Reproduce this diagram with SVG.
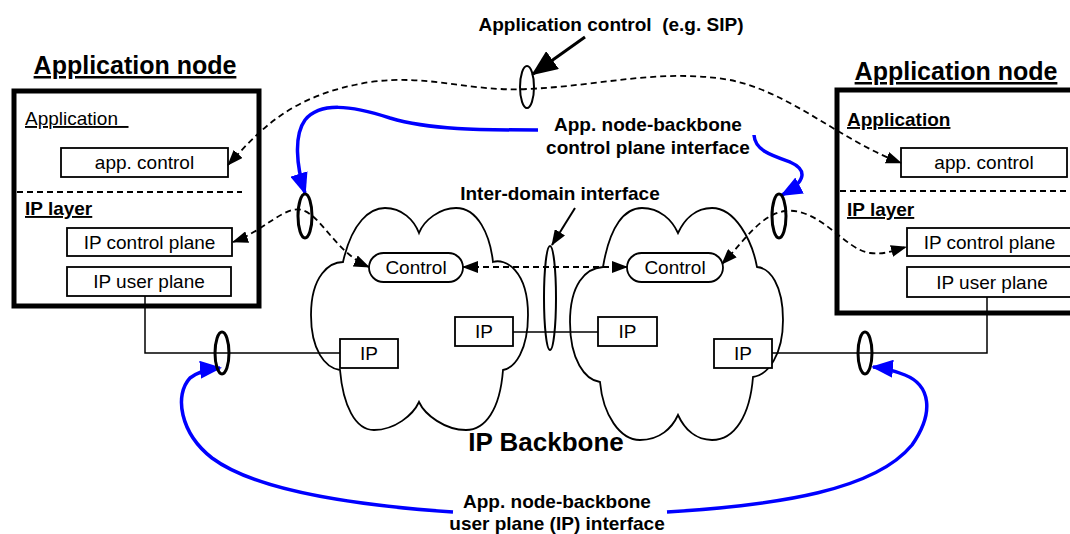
<svg xmlns="http://www.w3.org/2000/svg" width="1070" height="534" viewBox="0 0 1070 534">
<style>
text{font-family:"Liberation Sans",Arial,sans-serif;fill:#000}
.t{font-size:19px}
.b{font-size:19px;font-weight:bold}
.title{font-size:25px;font-weight:bold;text-decoration:underline}
.m{text-anchor:middle}
.box{fill:#fff;stroke:#000;stroke-width:1.8}
.node{fill:#fff;stroke:#000;stroke-width:5}
.cloud{fill:#fff;stroke:#000;stroke-width:1.8}
.dash{fill:none;stroke:#000;stroke-width:1.8;stroke-dasharray:6 4}
.solid{fill:none;stroke:#000;stroke-width:1.5}
.blue{fill:none;stroke:#0000ff;stroke-width:3.5}
.ell{fill:none;stroke:#000;stroke-width:3}
.ell2{fill:none;stroke:#000;stroke-width:2}
</style>
<defs>
<marker id="ah" markerUnits="userSpaceOnUse" markerWidth="16" markerHeight="12" refX="15" refY="6" orient="auto-start-reverse"><path d="M0,0 L16,6 L0,12 Z" fill="#000" stroke="none"/></marker>
<marker id="ahb" markerUnits="userSpaceOnUse" markerWidth="22" markerHeight="18" refX="20" refY="9" orient="auto"><path d="M0,0 L22,9 L0,18 Z" fill="#0000ff" stroke="none"/></marker>
<marker id="ahk" markerUnits="userSpaceOnUse" markerWidth="26" markerHeight="22" refX="24" refY="11" orient="auto"><path d="M0,0 L26,11 L0,22 Z" fill="#000" stroke="none"/></marker>
</defs>

<g id="left-node">
<rect class="node" x="14" y="91" width="245" height="215"/>
<text class="t" x="25" y="125" style="text-decoration:underline">Application&#160;&#160;</text>
<rect class="box" x="61" y="148" width="167" height="29"/>
<text class="t m" x="144.5" y="169">app. control</text>
<line class="dash" x1="17" y1="192" x2="242" y2="192"/>
<text class="b" x="25" y="215" style="text-decoration:underline">IP layer</text>
<rect class="box" x="67" y="228" width="165" height="28"/>
<text class="t m" x="149.5" y="248.5">IP control plane</text>
<rect class="box" x="67" y="267" width="164" height="29"/>
<text class="t m" x="149" y="288">IP user plane</text>
</g>
<text id="left-title" class="title m" x="135" y="74">Application node</text>

<g id="right-node">
<rect class="node" x="837" y="90" width="245" height="223"/>
<text class="b" x="847" y="126" style="text-decoration:underline">Application</text>
<rect class="box" x="901" y="148" width="166" height="29"/>
<text class="t m" x="984" y="169">app. control</text>
<line class="dash" x1="840" y1="191" x2="1070" y2="191"/>
<text class="b" x="847" y="216" style="text-decoration:underline">IP layer</text>
<rect class="box" x="907" y="228" width="170" height="28"/>
<text class="t m" x="989.5" y="248.5">IP control plane</text>
<rect class="box" x="907" y="267" width="170" height="30"/>
<text class="t m" x="992" y="288.5">IP user plane</text>
</g>
<text id="right-title" class="title m" x="956" y="80">Application node</text>

<g id="left-cloud">
<path class="cloud" d="M343,262 C352,222 370,208 385,208 C402,208 414,220 419,233 C424,220 440,208 456,208 C478,208 490,235 493,262 C505,258 528,270 528,315 C528,350 515,368 503,370 C500,410 485,430 466,430 C445,430 425,415 419,402 C413,415 395,430 374,430 C355,430 343,405 340,370 C325,368 311,350 311,315 C311,275 330,262 343,262 Z"/>
</g>
<g id="right-cloud">
<path class="cloud" d="M603,267 C610,225 625,208 642,208 C660,208 672,220 678,233 C684,220 695,208 712,208 C735,208 752,240 757,267 C770,268 783,285 783,320 C783,355 768,375 753,377 C750,415 735,440 712,440 C695,440 684,428 678,415 C672,428 660,440 640,440 C620,440 603,415 600,382 C585,380 570,360 570,322 C570,285 585,268 603,267 Z"/>
</g>

<g id="connectors">
<path class="solid" d="M145,296 V353 H340"/>
<path class="solid" d="M987,297 V353 H772"/>
<line class="solid" x1="513" y1="332" x2="598" y2="332"/>
<path class="dash" d="M228,165 C260,130 290,95 370,82 C430,74 470,92 527,89 C600,86 660,68 730,80 C790,92 840,140 901,163" marker-start="url(#ah)" marker-end="url(#ah)"/>
<path class="dash" d="M233,242 C262,232 285,205 302,210 C322,216 335,252 369,267" marker-start="url(#ah)" marker-end="url(#ah)"/>
<path class="dash" d="M722,264 C745,240 760,215 785,211 C820,207 845,250 870,253 C885,255 895,250 906,247" marker-start="url(#ah)" marker-end="url(#ah)"/>
<line class="dash" x1="463" y1="267" x2="627" y2="267" marker-start="url(#ah)" marker-end="url(#ah)"/>
<line x1="585" y1="37" x2="533" y2="74" stroke="#000" stroke-width="3" marker-end="url(#ahk)"/>
<line x1="575" y1="208" x2="552" y2="245" stroke="#000" stroke-width="2" marker-end="url(#ah)"/>
<path class="blue" d="M538,130 C480,130 430,130 390,118 C350,105 320,102 305,120 C294,135 296,165 305,193" marker-end="url(#ahb)"/>
<path class="blue" d="M754,135 C755,150 770,155 790,162 C808,170 806,182 782,195" marker-end="url(#ahb)"/>
<path class="blue" d="M453,512 C350,505 255,490 212,458 C180,433 174,395 190,378 C198,372 208,369 220,368" marker-end="url(#ahb)"/>
<path class="blue" d="M667,512 C780,505 875,490 912,445 C935,412 930,385 905,375 C895,371 885,368 873,367" marker-end="url(#ahb)"/>
<ellipse class="ell2" cx="527" cy="87" rx="7" ry="21"/>
<ellipse class="ell2" cx="550" cy="298" rx="6" ry="52"/>
<ellipse class="ell" cx="305" cy="216" rx="7" ry="22"/>
<ellipse class="ell" cx="779" cy="216" rx="7" ry="22"/>
<ellipse class="ell" cx="222" cy="353" rx="7" ry="21"/>
<ellipse class="ell" cx="865" cy="353" rx="7" ry="21"/>
</g>

<g id="ctrl-left">
<rect class="box" x="369" y="253" width="94" height="29" rx="14.5"/>
<text class="t m" x="416" y="274">Control</text>
</g>
<g id="ctrl-right">
<rect class="box" x="627" y="253" width="96" height="29" rx="14.5"/>
<text class="t m" x="675" y="274">Control</text>
</g>
<g id="ip-left-outer">
<rect class="box" x="340" y="339" width="58" height="29"/>
<text class="t m" x="369" y="360">IP</text>
</g>
<g id="ip-left-inner">
<rect class="box" x="455" y="317" width="58" height="29"/>
<text class="t m" x="484" y="338">IP</text>
</g>
<g id="ip-right-inner">
<rect class="box" x="598" y="317" width="59" height="29"/>
<text class="t m" x="627.5" y="338">IP</text>
</g>
<g id="ip-right-outer">
<rect class="box" x="714" y="339" width="58" height="29"/>
<text class="t m" x="743" y="360">IP</text>
</g>

<g id="labels">
<text class="b m" x="611" y="31">Application control&#160; (e.g. SIP)</text>
<text class="b m" x="648" y="131">App. node-backbone</text>
<text class="b m" x="648" y="154">control plane interface</text>
<text class="b m" x="560" y="200">Inter-domain interface</text>
<text class="m" x="546" y="451" style="font-size:26px;font-weight:bold">IP Backbone</text>
<text class="b m" x="557" y="508">App. node-backbone</text>
<text class="b m" x="557" y="530">user plane (IP) interface</text>
</g>
</svg>
